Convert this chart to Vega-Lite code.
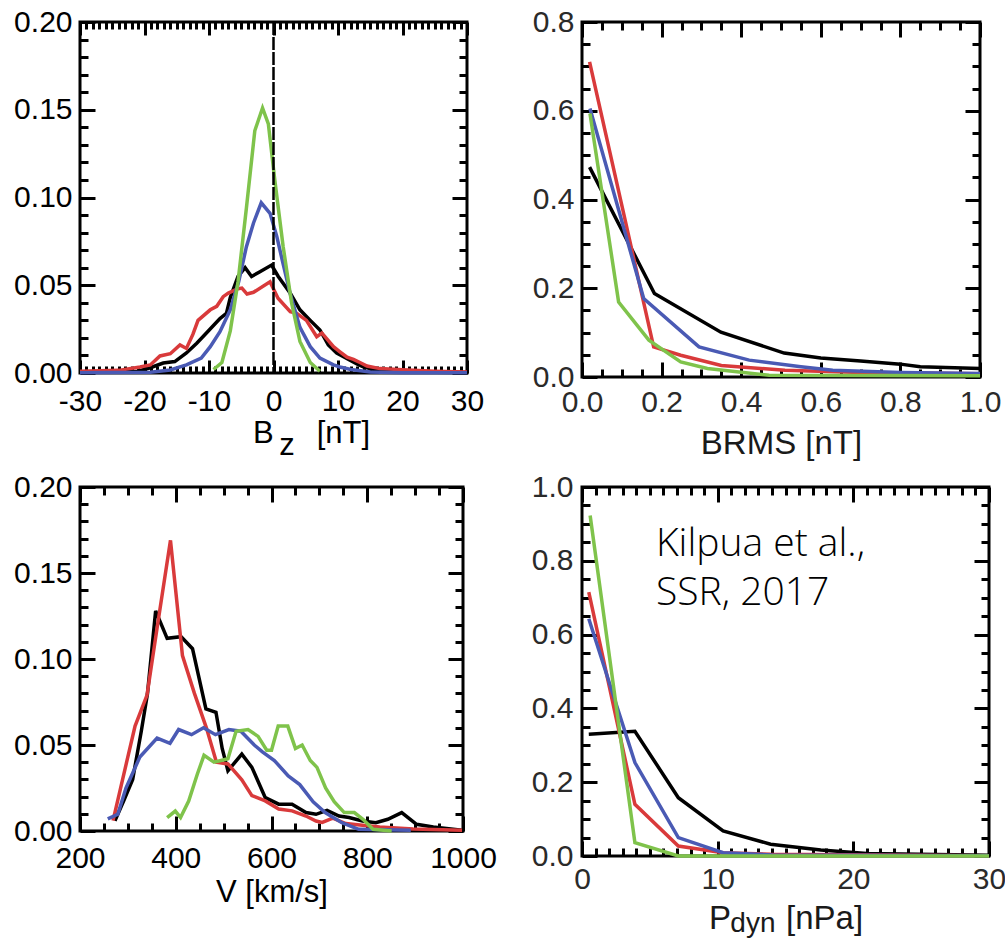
{
  "$schema": "https://vega.github.io/schema/vega-lite/v6.json",
  "background": "white",
  "padding": {"left": 12, "top": 5, "right": 5, "bottom": 0},
  "datasets": {
    "bz": [
      {"s":"black","x":-30,"y":0.0005},{"s":"black","x":-25,"y":0.0005},{"s":"black","x":-21,"y":0.001},{"s":"black","x":-19.1,"y":0.003},{"s":"black","x":-17.1,"y":0.0057},{"s":"black","x":-15.3,"y":0.0065},{"s":"black","x":-13.5,"y":0.0114},{"s":"black","x":-11.9,"y":0.017},{"s":"black","x":-10.4,"y":0.0228},{"s":"black","x":-8.3,"y":0.031},{"s":"black","x":-7.3,"y":0.034},{"s":"black","x":-6.7,"y":0.043},{"s":"black","x":-5.5,"y":0.055},{"s":"black","x":-4.4,"y":0.060},{"s":"black","x":-3.4,"y":0.055},{"s":"black","x":-2.1,"y":0.0577},{"s":"black","x":-0.3,"y":0.0615},{"s":"black","x":0.74,"y":0.055},{"s":"black","x":2.6,"y":0.0455},{"s":"black","x":4.1,"y":0.036},{"s":"black","x":5.7,"y":0.030},{"s":"black","x":7.2,"y":0.0245},{"s":"black","x":8.5,"y":0.016},{"s":"black","x":9.8,"y":0.0114},{"s":"black","x":11,"y":0.009},{"s":"black","x":12,"y":0.007},{"s":"black","x":13,"y":0.005},{"s":"black","x":14,"y":0.0034},{"s":"black","x":15,"y":0.0025},{"s":"black","x":16,"y":0.0015},{"s":"black","x":18,"y":0.001},{"s":"black","x":20,"y":0.0006},{"s":"black","x":25,"y":0.0004},{"s":"black","x":30,"y":0.0003},
      {"s":"red","x":-30,"y":0.001},{"s":"red","x":-24,"y":0.0015},{"s":"red","x":-20.7,"y":0.0034},{"s":"red","x":-19.1,"y":0.0046},{"s":"red","x":-17.6,"y":0.0097},{"s":"red","x":-16,"y":0.011},{"s":"red","x":-14.5,"y":0.016},{"s":"red","x":-13.5,"y":0.014},{"s":"red","x":-12.5,"y":0.022},{"s":"red","x":-11.7,"y":0.030},{"s":"red","x":-9.8,"y":0.036},{"s":"red","x":-8.8,"y":0.038},{"s":"red","x":-7.8,"y":0.0435},{"s":"red","x":-7.0,"y":0.0455},{"s":"red","x":-5.5,"y":0.048},{"s":"red","x":-4.9,"y":0.0484},{"s":"red","x":-4.1,"y":0.045},{"s":"red","x":-3.1,"y":0.046},{"s":"red","x":-0.54,"y":0.052},{"s":"red","x":0.7,"y":0.0426},{"s":"red","x":2.6,"y":0.035},{"s":"red","x":3.6,"y":0.034},{"s":"red","x":5.1,"y":0.030},{"s":"red","x":6.7,"y":0.0207},{"s":"red","x":7.5,"y":0.0228},{"s":"red","x":9.3,"y":0.015},{"s":"red","x":10.3,"y":0.0121},{"s":"red","x":11.4,"y":0.009},{"s":"red","x":12.4,"y":0.0078},{"s":"red","x":13.4,"y":0.006},{"s":"red","x":14.5,"y":0.004},{"s":"red","x":16.5,"y":0.0025},{"s":"red","x":20,"y":0.0018},{"s":"red","x":25,"y":0.001},{"s":"red","x":30,"y":0.0005},
      {"s":"blue","x":-30,"y":0.0002},{"s":"blue","x":-19.1,"y":0.0004},{"s":"blue","x":-16,"y":0.0017},{"s":"blue","x":-13.5,"y":0.0046},{"s":"blue","x":-11.2,"y":0.0085},{"s":"blue","x":-9.8,"y":0.015},{"s":"blue","x":-8.3,"y":0.0235},{"s":"blue","x":-6.7,"y":0.036},{"s":"blue","x":-5.4,"y":0.052},{"s":"blue","x":-4.2,"y":0.072},{"s":"blue","x":-3.1,"y":0.0855},{"s":"blue","x":-1.9,"y":0.097},{"s":"blue","x":-0.54,"y":0.091},{"s":"blue","x":0.5,"y":0.078},{"s":"blue","x":1.5,"y":0.062},{"s":"blue","x":2.6,"y":0.045},{"s":"blue","x":4.1,"y":0.026},{"s":"blue","x":5.7,"y":0.015},{"s":"blue","x":7.2,"y":0.0085},{"s":"blue","x":9.3,"y":0.0046},{"s":"blue","x":10.3,"y":0.0034},{"s":"blue","x":12,"y":0.002},{"s":"blue","x":15,"y":0.0006},{"s":"blue","x":20,"y":0.0002},{"s":"blue","x":30,"y":0.0001},
      {"s":"green","x":-9.3,"y":0.002},{"s":"green","x":-8.0,"y":0.006},{"s":"green","x":-6.7,"y":0.024},{"s":"green","x":-5.5,"y":0.052},{"s":"green","x":-4.2,"y":0.094},{"s":"green","x":-2.9,"y":0.138},{"s":"green","x":-1.7,"y":0.151},{"s":"green","x":-0.8,"y":0.142},{"s":"green","x":0.2,"y":0.110},{"s":"green","x":1.5,"y":0.072},{"s":"green","x":2.8,"y":0.040},{"s":"green","x":4.1,"y":0.018},{"s":"green","x":5.7,"y":0.006},{"s":"green","x":7.2,"y":0.001}
    ],
    "brms": [
      {"s":"black","x":0.019,"y":0.473},{"s":"black","x":0.182,"y":0.188},{"s":"black","x":0.349,"y":0.101},{"s":"black","x":0.508,"y":0.054},{"s":"black","x":0.60,"y":0.043},{"s":"black","x":0.70,"y":0.036},{"s":"black","x":0.80,"y":0.029},{"s":"black","x":0.85,"y":0.023},{"s":"black","x":1.0,"y":0.019},
      {"s":"red","x":0.019,"y":0.71},{"s":"red","x":0.18,"y":0.068},{"s":"red","x":0.248,"y":0.049},{"s":"red","x":0.35,"y":0.026},{"s":"red","x":0.51,"y":0.015},{"s":"red","x":0.7,"y":0.010},{"s":"red","x":1.0,"y":0.0075},
      {"s":"blue","x":0.02,"y":0.605},{"s":"blue","x":0.155,"y":0.177},{"s":"blue","x":0.294,"y":0.068},{"s":"blue","x":0.42,"y":0.038},{"s":"blue","x":0.55,"y":0.023},{"s":"blue","x":0.63,"y":0.015},{"s":"blue","x":0.8,"y":0.010},{"s":"blue","x":1.0,"y":0.008},
      {"s":"green","x":0.02,"y":0.594},{"s":"green","x":0.092,"y":0.169},{"s":"green","x":0.168,"y":0.083},{"s":"green","x":0.248,"y":0.034},{"s":"green","x":0.315,"y":0.019},{"s":"green","x":0.47,"y":0.004},{"s":"green","x":1.0,"y":0.003}
    ],
    "v": [
      {"s":"black","x":273,"y":0.006},{"s":"black","x":292,"y":0.018},{"s":"black","x":310,"y":0.030},{"s":"black","x":328,"y":0.058},{"s":"black","x":341,"y":0.080},{"s":"black","x":358,"y":0.128},{"s":"black","x":382,"y":0.112},{"s":"black","x":411,"y":0.113},{"s":"black","x":435,"y":0.106},{"s":"black","x":463,"y":0.071},{"s":"black","x":484,"y":0.069},{"s":"black","x":497,"y":0.048},{"s":"black","x":509,"y":0.035},{"s":"black","x":538,"y":0.0447},{"s":"black","x":559,"y":0.037},{"s":"black","x":587,"y":0.0194},{"s":"black","x":615,"y":0.0156},{"s":"black","x":643,"y":0.0156},{"s":"black","x":672,"y":0.0107},{"s":"black","x":693,"y":0.0097},{"s":"black","x":716,"y":0.0120},{"s":"black","x":741,"y":0.0087},{"s":"black","x":762,"y":0.0078},{"s":"black","x":790,"y":0.0058},{"s":"black","x":818,"y":0.0048},{"s":"black","x":843,"y":0.0068},{"s":"black","x":872,"y":0.0107},{"s":"black","x":903,"y":0.0039},{"s":"black","x":938,"y":0.0023},{"s":"black","x":998,"y":0.0004},
      {"s":"red","x":269,"y":0.006},{"s":"red","x":294,"y":0.036},{"s":"red","x":315,"y":0.061},{"s":"red","x":340,"y":0.079},{"s":"red","x":361,"y":0.118},{"s":"red","x":389,"y":0.169},{"s":"red","x":414,"y":0.102},{"s":"red","x":439,"y":0.080},{"s":"red","x":464,"y":0.060},{"s":"red","x":485,"y":0.040},{"s":"red","x":509,"y":0.039},{"s":"red","x":538,"y":0.0298},{"s":"red","x":559,"y":0.0206},{"s":"red","x":587,"y":0.0175},{"s":"red","x":615,"y":0.0128},{"s":"red","x":643,"y":0.0117},{"s":"red","x":672,"y":0.0087},{"s":"red","x":693,"y":0.0058},{"s":"red","x":706,"y":0.0050},{"s":"red","x":728,"y":0.0075},{"s":"red","x":755,"y":0.0043},{"s":"red","x":790,"y":0.0033},{"s":"red","x":826,"y":0.0023},{"s":"red","x":896,"y":0.0012},{"s":"red","x":998,"y":0.0004},
      {"s":"blue","x":258,"y":0.007},{"s":"blue","x":279,"y":0.0097},{"s":"blue","x":296,"y":0.025},{"s":"blue","x":325,"y":0.043},{"s":"blue","x":361,"y":0.054},{"s":"blue","x":388,"y":0.051},{"s":"blue","x":406,"y":0.059},{"s":"blue","x":433,"y":0.056},{"s":"blue","x":458,"y":0.060},{"s":"blue","x":483,"y":0.056},{"s":"blue","x":511,"y":0.059},{"s":"blue","x":536,"y":0.058},{"s":"blue","x":564,"y":0.050},{"s":"blue","x":581,"y":0.046},{"s":"blue","x":606,"y":0.041},{"s":"blue","x":635,"y":0.032},{"s":"blue","x":659,"y":0.027},{"s":"blue","x":687,"y":0.017},{"s":"blue","x":712,"y":0.0107},{"s":"blue","x":747,"y":0.0048},{"s":"blue","x":782,"y":0.001},{"s":"blue","x":891,"y":0.0004},
      {"s":"green","x":382,"y":0.0078},{"s":"green","x":399,"y":0.0116},{"s":"green","x":410,"y":0.0078},{"s":"green","x":427,"y":0.0174},{"s":"green","x":445,"y":0.033},{"s":"green","x":459,"y":0.044},{"s":"green","x":480,"y":0.040},{"s":"green","x":509,"y":0.042},{"s":"green","x":526,"y":0.058},{"s":"green","x":551,"y":0.059},{"s":"green","x":572,"y":0.055},{"s":"green","x":590,"y":0.047},{"s":"green","x":600,"y":0.047},{"s":"green","x":614,"y":0.061},{"s":"green","x":634,"y":0.061},{"s":"green","x":650,"y":0.048},{"s":"green","x":664,"y":0.050},{"s":"green","x":681,"y":0.041},{"s":"green","x":695,"y":0.037},{"s":"green","x":713,"y":0.025},{"s":"green","x":731,"y":0.017},{"s":"green","x":752,"y":0.0107},{"s":"green","x":773,"y":0.0107},{"s":"green","x":791,"y":0.0068},{"s":"green","x":812,"y":0.001},{"s":"green","x":851,"y":0.0}
    ],
    "pdyn": [
      {"s":"black","x":0.5,"y":0.330},{"s":"black","x":3.9,"y":0.338},{"s":"black","x":7.1,"y":0.158},{"s":"black","x":10.4,"y":0.068},{"s":"black","x":13.9,"y":0.032},{"s":"black","x":17.6,"y":0.016},{"s":"black","x":21,"y":0.007},{"s":"black","x":30,"y":0.002},
      {"s":"red","x":0.5,"y":0.715},{"s":"red","x":3.9,"y":0.140},{"s":"red","x":7.1,"y":0.027},{"s":"red","x":10.4,"y":0.009},{"s":"red","x":13.9,"y":0.0045},{"s":"red","x":30,"y":0.001},
      {"s":"blue","x":0.5,"y":0.643},{"s":"blue","x":3.9,"y":0.253},{"s":"blue","x":7.1,"y":0.050},{"s":"blue","x":10.4,"y":0.009},{"s":"blue","x":14,"y":0.003},{"s":"blue","x":30,"y":0.001},
      {"s":"green","x":0.6,"y":0.923},{"s":"green","x":3.9,"y":0.036},{"s":"green","x":7.1,"y":0.0},{"s":"green","x":30,"y":0.0}
    ]
  },
  "bounds": "flush",
  "columns": 2,
  "spacing": {"row": 110, "column": 115},
  "concat": [
    {
      "width": 387, "height": 351,
      "layer": [
        {
          "data": {"name": "bz"},
          "mark": {"type": "line", "strokeWidth": 3.5},
          "encoding": {
            "x": {"field": "x", "type": "quantitative", "scale": {"domain": [-30, 30], "nice": false, "zero": false},
              "axis": {"orient": "bottom", "values": [-30,-29,-28,-27,-26,-25,-24,-23,-22,-21,-20,-19,-18,-17,-16,-15,-14,-13,-12,-11,-10,-9,-8,-7,-6,-5,-4,-3,-2,-1,0,1,2,3,4,5,6,7,8,9,10,11,12,13,14,15,16,17,18,19,20,21,22,23,24,25,26,27,28,29,30],
                "tickSize": {"condition": {"test": "datum.value % 10 === 0", "value": -13}, "value": -7},
                "labelExpr": "datum.value % 10 === 0 ? '' + datum.value : ''",
                "labelPadding": 26,
                "title": "B\u00a0\u00a0\u00a0\u00a0\u00a0[nT]", "titleFontSize": 31, "titleX": 231, "titlePadding": -4}},
            "y": {"field": "y", "type": "quantitative", "scale": {"domain": [0, 0.2], "nice": false, "zero": false},
              "axis": {"orient": "left", "values": [0,0.01,0.02,0.03,0.04,0.05,0.06,0.07,0.08,0.09,0.1,0.11,0.12,0.13,0.14,0.15,0.16,0.17,0.18,0.19,0.2],
                "tickSize": {"condition": {"test": "abs(datum.value*20 - round(datum.value*20)) < 1e-6", "value": -15}, "value": -8},
                "labelExpr": "abs(datum.value*20 - round(datum.value*20)) < 1e-6 ? format(datum.value, '.2f') : ''",
                "labelPadding": 23, "title": null}},
            "color": {"field": "s", "type": "nominal", "scale": {"domain": ["black", "red", "blue", "green"], "range": ["#000000", "#d93a3b", "#4a5ab4", "#7fc34b"]}, "legend": null}
          }
        },
        {
          "data": {"name": "bz"},
          "mark": {"type": "line", "opacity": 0},
          "encoding": {
            "x": {"field": "x", "type": "quantitative",
              "axis": {"orient": "top", "values": [-30,-29,-28,-27,-26,-25,-24,-23,-22,-21,-20,-19,-18,-17,-16,-15,-14,-13,-12,-11,-10,-9,-8,-7,-6,-5,-4,-3,-2,-1,0,1,2,3,4,5,6,7,8,9,10,11,12,13,14,15,16,17,18,19,20,21,22,23,24,25,26,27,28,29,30],
                "tickSize": {"condition": {"test": "datum.value % 10 === 0", "value": -13}, "value": -7},
                "labels": false, "title": null}},
            "y": {"field": "y", "type": "quantitative",
              "axis": {"orient": "right", "values": [0,0.01,0.02,0.03,0.04,0.05,0.06,0.07,0.08,0.09,0.1,0.11,0.12,0.13,0.14,0.15,0.16,0.17,0.18,0.19,0.2],
                "tickSize": {"condition": {"test": "abs(datum.value*20 - round(datum.value*20)) < 1e-6", "value": -15}, "value": -8},
                "labels": false, "title": null}}
          }
        },
        {
          "data": {"values": [{"x": 0}]},
          "mark": {"type": "rule", "strokeDash": [13, 2], "strokeWidth": 2.5, "color": "#000000"},
          "encoding": {"x": {"field": "x", "type": "quantitative", "axis": null}}
        },
        {
          "data": {"values": [{"x": 2.1, "y": 0, "t": "z"}]},
          "mark": {"type": "text", "font": "Liberation Sans", "fontSize": 31, "dy": 82, "baseline": "alphabetic", "align": "center", "color": "#000000"},
          "encoding": {
            "x": {"field": "x", "type": "quantitative", "axis": null},
            "y": {"field": "y", "type": "quantitative", "axis": null},
            "text": {"field": "t", "type": "nominal"}
          }
        }
      ],
      "resolve": {"axis": {"x": "independent", "y": "independent"}}
    },
    {
      "width": 398, "height": 355,
      "layer": [
        {
          "data": {"name": "brms"},
          "mark": {"type": "line", "strokeWidth": 3.5},
          "encoding": {
            "x": {"field": "x", "type": "quantitative", "scale": {"domain": [0, 1], "nice": false, "zero": false},
              "axis": {"orient": "bottom", "values": [0,0.05,0.1,0.15,0.2,0.25,0.3,0.35,0.4,0.45,0.5,0.55,0.6,0.65,0.7,0.75,0.8,0.85,0.9,0.95,1],
                "tickSize": {"condition": {"test": "abs(datum.value*5 - round(datum.value*5)) < 1e-6", "value": -15}, "value": -8},
                "labelExpr": "abs(datum.value*5 - round(datum.value*5)) < 1e-6 ? format(datum.value, '.1f') : ''",
                "labelPadding": 25, "labelColor": "#2a2a2a",
                "title": "BRMS [nT]", "titleFontSize": 33, "titlePadding": 3, "titleColor": "#1a1a1a"}},
            "y": {"field": "y", "type": "quantitative", "scale": {"domain": [0, 0.8], "nice": false, "zero": false},
              "axis": {"orient": "left", "values": [0,0.05,0.1,0.15,0.2,0.25,0.3,0.35,0.4,0.45,0.5,0.55,0.6,0.65,0.7,0.75,0.8],
                "tickSize": {"condition": {"test": "abs(datum.value*5 - round(datum.value*5)) < 1e-6", "value": -15}, "value": -8},
                "labelExpr": "abs(datum.value*5 - round(datum.value*5)) < 1e-6 ? format(datum.value, '.1f') : ''",
                "labelPadding": 23, "labelColor": "#2a2a2a", "title": null}},
            "color": {"field": "s", "type": "nominal", "scale": {"domain": ["black", "red", "blue", "green"], "range": ["#000000", "#d93a3b", "#4a5ab4", "#7fc34b"]}, "legend": null}
          }
        },
        {
          "data": {"name": "brms"},
          "mark": {"type": "line", "opacity": 0},
          "encoding": {
            "x": {"field": "x", "type": "quantitative",
              "axis": {"orient": "top", "values": [0,0.05,0.1,0.15,0.2,0.25,0.3,0.35,0.4,0.45,0.5,0.55,0.6,0.65,0.7,0.75,0.8,0.85,0.9,0.95,1],
                "tickSize": {"condition": {"test": "abs(datum.value*5 - round(datum.value*5)) < 1e-6", "value": -15}, "value": -8},
                "labels": false, "title": null}},
            "y": {"field": "y", "type": "quantitative",
              "axis": {"orient": "right", "values": [0,0.05,0.1,0.15,0.2,0.25,0.3,0.35,0.4,0.45,0.5,0.55,0.6,0.65,0.7,0.75,0.8],
                "tickSize": {"condition": {"test": "abs(datum.value*5 - round(datum.value*5)) < 1e-6", "value": -15}, "value": -8},
                "labels": false, "title": null}}
          }
        }
      ],
      "resolve": {"axis": {"x": "independent", "y": "independent"}}
    },
    {
      "width": 383, "height": 344,
      "layer": [
        {
          "data": {"name": "v"},
          "mark": {"type": "line", "strokeWidth": 3.5},
          "encoding": {
            "x": {"field": "x", "type": "quantitative", "scale": {"domain": [200, 1000], "nice": false, "zero": false},
              "axis": {"orient": "bottom", "values": [200,250,300,350,400,450,500,550,600,650,700,750,800,850,900,950,1000],
                "tickSize": {"condition": {"test": "datum.value % 200 === 0", "value": -15}, "value": -8},
                "labelExpr": "datum.value % 200 === 0 ? '' + datum.value : ''",
                "labelPadding": 27,
                "title": "V [km/s]", "titleFontSize": 31, "titlePadding": -3}},
            "y": {"field": "y", "type": "quantitative", "scale": {"domain": [0, 0.2], "nice": false, "zero": false},
              "axis": {"orient": "left", "values": [0,0.01,0.02,0.03,0.04,0.05,0.06,0.07,0.08,0.09,0.1,0.11,0.12,0.13,0.14,0.15,0.16,0.17,0.18,0.19,0.2],
                "tickSize": {"condition": {"test": "abs(datum.value*20 - round(datum.value*20)) < 1e-6", "value": -15}, "value": -8},
                "labelExpr": "abs(datum.value*20 - round(datum.value*20)) < 1e-6 ? format(datum.value, '.2f') : ''",
                "labelPadding": 23, "title": null}},
            "color": {"field": "s", "type": "nominal", "scale": {"domain": ["black", "red", "blue", "green"], "range": ["#000000", "#d93a3b", "#4a5ab4", "#7fc34b"]}, "legend": null}
          }
        },
        {
          "data": {"name": "v"},
          "mark": {"type": "line", "opacity": 0},
          "encoding": {
            "x": {"field": "x", "type": "quantitative",
              "axis": {"orient": "top", "values": [200,250,300,350,400,450,500,550,600,650,700,750,800,850,900,950,1000],
                "tickSize": {"condition": {"test": "datum.value % 200 === 0", "value": -15}, "value": -8},
                "labels": false, "title": null}},
            "y": {"field": "y", "type": "quantitative",
              "axis": {"orient": "right", "values": [0,0.01,0.02,0.03,0.04,0.05,0.06,0.07,0.08,0.09,0.1,0.11,0.12,0.13,0.14,0.15,0.16,0.17,0.18,0.19,0.2],
                "tickSize": {"condition": {"test": "abs(datum.value*20 - round(datum.value*20)) < 1e-6", "value": -15}, "value": -8},
                "labels": false, "title": null}}
          }
        }
      ],
      "resolve": {"axis": {"x": "independent", "y": "independent"}}
    },
    {
      "width": 407, "height": 369,
      "layer": [
        {
          "data": {"name": "pdyn"},
          "mark": {"type": "line", "strokeWidth": 3.5},
          "encoding": {
            "x": {"field": "x", "type": "quantitative", "scale": {"domain": [0, 30], "nice": false, "zero": false},
              "axis": {"orient": "bottom", "values": [0,1,2,3,4,5,6,7,8,9,10,11,12,13,14,15,16,17,18,19,20,21,22,23,24,25,26,27,28,29,30],
                "tickSize": {"condition": {"test": "datum.value % 10 === 0", "value": -15}, "value": -8},
                "labelExpr": "datum.value % 10 === 0 ? '' + datum.value : ''",
                "labelPadding": 23, "labelColor": "#2a2a2a",
                "title": "P\u00a0\u00a0\u00a0\u00a0\u00a0\u00a0[nPa]", "titleFontSize": 33, "titlePadding": 1, "titleColor": "#1a1a1a"}},
            "y": {"field": "y", "type": "quantitative", "scale": {"domain": [0, 1], "nice": false, "zero": false},
              "axis": {"orient": "left", "values": [0,0.05,0.1,0.15,0.2,0.25,0.3,0.35,0.4,0.45,0.5,0.55,0.6,0.65,0.7,0.75,0.8,0.85,0.9,0.95,1],
                "tickSize": {"condition": {"test": "abs(datum.value*5 - round(datum.value*5)) < 1e-6", "value": -15}, "value": -8},
                "labelExpr": "abs(datum.value*5 - round(datum.value*5)) < 1e-6 ? format(datum.value, '.1f') : ''",
                "labelPadding": 24, "labelColor": "#2a2a2a", "title": null}},
            "color": {"field": "s", "type": "nominal", "scale": {"domain": ["black", "red", "blue", "green"], "range": ["#000000", "#d93a3b", "#4a5ab4", "#7fc34b"]}, "legend": null}
          }
        },
        {
          "data": {"name": "pdyn"},
          "mark": {"type": "line", "opacity": 0},
          "encoding": {
            "x": {"field": "x", "type": "quantitative",
              "axis": {"orient": "top", "values": [0,1,2,3,4,5,6,7,8,9,10,11,12,13,14,15,16,17,18,19,20,21,22,23,24,25,26,27,28,29,30],
                "tickSize": {"condition": {"test": "datum.value % 10 === 0", "value": -15}, "value": -8},
                "labels": false, "title": null}},
            "y": {"field": "y", "type": "quantitative",
              "axis": {"orient": "right", "values": [0,0.05,0.1,0.15,0.2,0.25,0.3,0.35,0.4,0.45,0.5,0.55,0.6,0.65,0.7,0.75,0.8,0.85,0.9,0.95,1],
                "tickSize": {"condition": {"test": "abs(datum.value*5 - round(datum.value*5)) < 1e-6", "value": -15}, "value": -8},
                "labels": false, "title": null}}
          }
        },
        {
          "data": {"values": [{"x": 12.6, "y": 0, "t": "dyn"}]},
          "mark": {"type": "text", "font": "Liberation Sans", "fontSize": 28, "dy": 76, "baseline": "alphabetic", "align": "center", "color": "#1a1a1a"},
          "encoding": {
            "x": {"field": "x", "type": "quantitative", "axis": null},
            "y": {"field": "y", "type": "quantitative", "axis": null},
            "text": {"field": "t", "type": "nominal"}
          }
        },
        {
          "data": {"values": [{"x": 5.45, "y": 0.813, "t": "Kilpua et al.,\nSSR, 2017"}]},
          "mark": {"type": "text", "font": "Open Sans", "fontWeight": 300, "fontSize": 39, "lineHeight": 49, "lineBreak": "\n", "baseline": "alphabetic", "align": "left", "color": "#000000"},
          "encoding": {
            "x": {"field": "x", "type": "quantitative", "axis": null},
            "y": {"field": "y", "type": "quantitative", "axis": null},
            "text": {"field": "t", "type": "nominal"}
          }
        }
      ],
      "resolve": {"axis": {"x": "independent", "y": "independent"}}
    }
  ],
  "config": {
    "view": {"stroke": "#000000", "strokeWidth": 3},
    "axis": {
      "domain": false, "grid": false,
      "tickColor": "#000000", "tickWidth": 3,
      "labelFont": "Liberation Sans", "labelFontSize": 30, "labelColor": "#000000",
      "labelFlush": false, "labelOverlap": false,
      "titleFont": "Liberation Sans", "titleFontWeight": "normal", "titleColor": "#000000"
    }
  }
}
